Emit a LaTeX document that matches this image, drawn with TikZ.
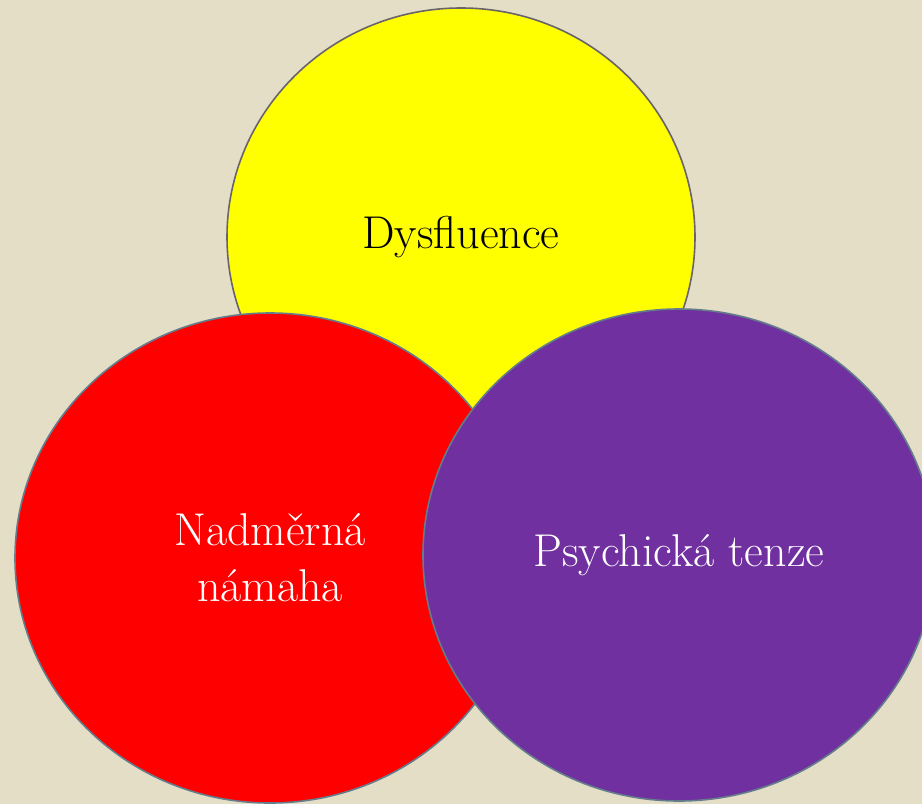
\documentclass[tikz,border=0pt]{standalone}
\usepackage{tikz}
\usetikzlibrary{shapes.geometric}
\definecolor{bgsand}{RGB}{229,222,198}
\definecolor{circyellow}{RGB}{255,255,0}
\definecolor{circred}{RGB}{255,0,0}
\definecolor{circpurple}{RGB}{112,48,160}
\definecolor{rimgray}{RGB}{105,100,105}
\definecolor{rimblue}{RGB}{100,125,140}

\begin{document}
\begin{tikzpicture}[x=1pt,y=-1pt,
  blob/.style={ellipse,draw,line width=1.6pt,inner sep=0pt,align=center,
    font=\fontsize{46}{56}\selectfont}]
\clip (0,0) rectangle (922,804);
\fill[bgsand] (0,0) rectangle (922,804);

\node[blob,fill=circyellow,draw=rimgray,minimum width=468pt,minimum height=458pt] (dys) at (461,237) {Dysfluence};

\node[blob,fill=circred,draw=rimblue,text=white,minimum width=510pt,minimum height=490pt] (nad) at (270,558) {Nadměrná\\námaha};

\node[blob,fill=circpurple,draw=rimblue,text=white,minimum width=512pt,minimum height=492pt] (psy) at (679,555) {Psychická tenze};

\end{tikzpicture}
\end{document}
